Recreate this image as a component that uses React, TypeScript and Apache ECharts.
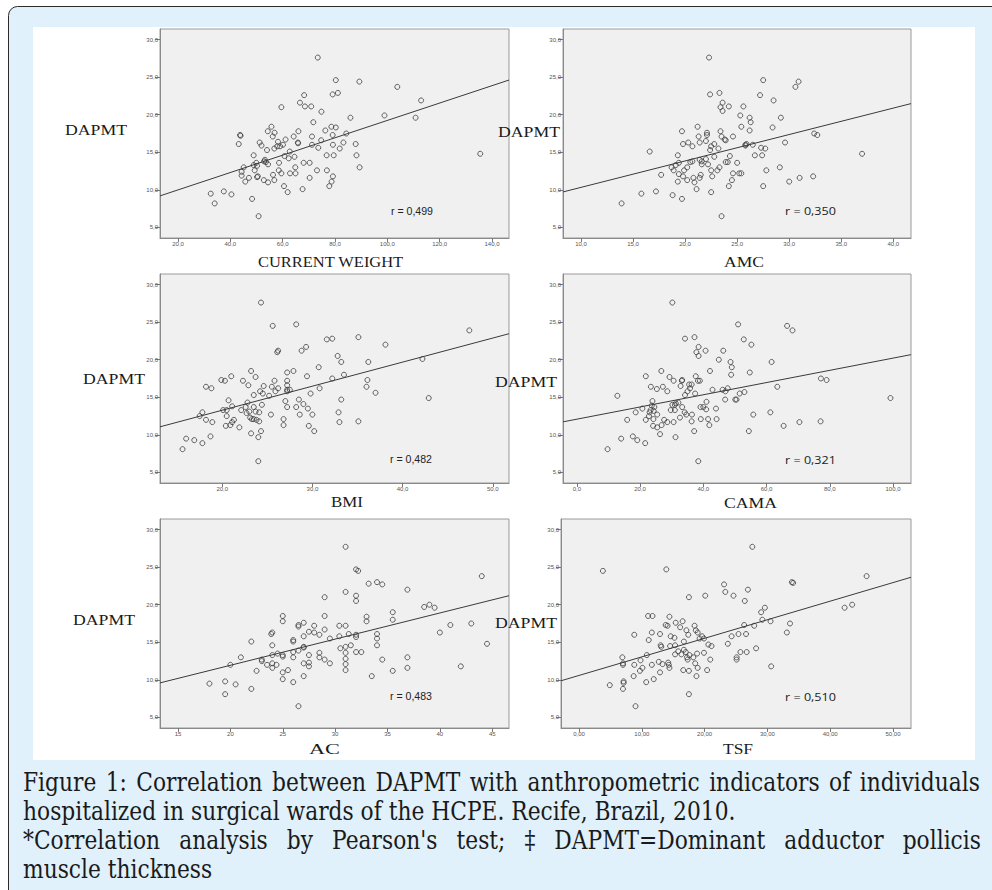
import React, { useEffect, useRef } from "react";
import * as echarts from "echarts";

// ---------- DATA ----------
const weightData: [number, number][] = [
  [73.4,27.6],[80.3,24.6],[89.3,24.4],[103.8,23.7],[112.9,21.9],[79.1,22.7],[81.1,22.9],[68.2,22.6],[66.6,21.6],[68.5,21.1],
  [70.9,21.1],[59.5,21.0],[74.8,20.4],[98.9,19.9],[85.9,19.6],[110.8,19.6],[71.7,19.0],[55.7,18.4],[78.6,18.4],[80.3,18.3],
  [76.3,17.9],[54.3,17.8],[56.9,17.6],[66.0,17.8],[43.9,17.2],[56.2,17.1],[64.2,17.1],[71.2,17.1],[79.1,17.3],[84.3,17.5],
  [43.7,17.3],[61.1,16.7],[74.7,16.6],[51.2,16.3],[58.2,16.4],[65.9,16.2],[83.2,16.3],[87.9,16.1],[43.2,16.1],[51.9,15.9],
  [57.9,15.8],[59.0,15.8],[71.2,16.0],[73.6,15.6],[79.2,16.0],[81.8,15.5],[54.0,15.3],[56.8,15.5],[62.7,15.1],[48.9,14.6],
  [60.7,14.5],[62.3,14.2],[64.5,14.4],[76.8,14.6],[79.5,14.6],[88.2,14.6],[135.5,14.8],[52.9,13.8],[53.6,13.7],[49.9,13.6],
  [48.9,13.3],[54.4,13.4],[58.6,13.6],[68.0,13.6],[70.3,13.6],[45.1,13.0],[64.8,13.0],[89.4,13.0],[44.3,12.4],[49.3,12.6],
  [58.5,12.6],[73.1,12.6],[76.9,12.6],[44.3,11.9],[56.3,12.0],[59.5,12.2],[62.8,12.2],[64.9,12.2],[79.2,11.8],[50.2,11.7],
  [47.1,11.6],[70.3,11.6],[45.7,11.1],[52.8,11.3],[54.4,11.0],[56.8,11.3],[78.7,11.1],[60.5,10.5],[77.8,10.5],[67.6,10.1],
  [61.9,9.7],[32.5,9.5],[37.5,9.8],[40.4,9.4],[48.3,8.8],[34.0,8.2],[50.8,6.5],[60.1,16.0],[50.2,13.2],[53.2,14.0],
  [50.5,11.8],[65.8,16.3]
];
const amcData: [number, number][] = [
  [22.3,27.6],[27.5,24.6],[30.9,24.4],[30.6,23.7],[23.3,22.9],[22.4,22.7],[27.2,22.6],[28.5,21.9],[23.6,21.6],[23.4,21.0],
  [24.2,21.1],[25.6,21.1],[23.6,20.5],[25.3,19.9],[26.2,19.6],[29.2,19.6],[26.3,19.0],[25.4,18.4],[28.4,18.3],[21.2,18.4],
  [26.2,17.9],[19.7,17.8],[23.4,17.8],[22.1,17.6],[22.1,17.3],[21.3,17.1],[23.5,17.1],[24.6,17.1],[32.4,17.5],[32.7,17.3],
  [23.8,16.7],[22.0,16.5],[20.3,16.3],[21.4,16.3],[22.8,16.1],[19.8,16.1],[29.6,16.3],[25.9,16.1],[26.5,16.0],[25.8,15.9],
  [22.5,15.8],[20.7,15.8],[27.3,15.6],[27.7,15.5],[23.2,15.5],[22.4,15.3],[16.6,15.1],[19.3,14.6],[24.3,14.5],[26.7,14.6],
  [27.4,14.6],[37.0,14.8],[22.8,14.4],[21.4,14.0],[21.6,13.8],[20.5,13.7],[23.9,13.7],[24.1,13.7],[19.4,13.6],[25.0,13.6],
  [21.6,13.4],[22.2,13.4],[19.1,13.3],[18.7,13.0],[20.2,13.0],[23.3,13.0],[29.1,13.0],[18.9,12.6],[19.9,12.6],[22.5,12.6],
  [23.1,12.6],[27.8,12.6],[17.7,12.0],[19.4,12.1],[21.5,12.0],[24.6,12.2],[25.2,12.2],[25.4,12.2],[19.8,11.8],[20.8,11.6],
  [21.4,11.6],[22.6,11.8],[31.0,11.6],[32.3,11.8],[19.3,11.1],[20.2,11.3],[20.9,11.0],[24.5,11.3],[30.0,11.1],[24.2,10.5],
  [27.5,10.5],[21.1,10.1],[22.5,9.7],[15.8,9.5],[17.2,9.8],[18.8,9.3],[19.7,8.8],[13.9,8.2],[23.5,6.5],[20.7,13.8],
  [22.0,14.1],[23.9,16.6],[25.8,16.0]
];
const bmiData: [number, number][] = [
  [24.3,27.6],[25.6,24.5],[28.2,24.7],[47.4,23.9],[35.1,23.0],[31.6,22.7],[32.2,22.8],[38.1,22.0],[29.3,21.7],[28.8,21.2],
  [26.1,21.0],[26.2,21.2],[32.8,20.5],[33.2,19.7],[36.2,19.7],[42.2,20.1],[30.7,19.0],[23.2,18.5],[27.2,18.3],[27.9,18.5],
  [33.5,18.0],[29.4,17.8],[21.0,17.8],[23.7,17.7],[32.2,17.5],[19.9,17.3],[20.3,17.2],[22.3,17.2],[25.8,17.2],[27.2,17.2],
  [36.1,17.3],[22.9,16.6],[27.2,16.6],[18.2,16.4],[18.8,16.2],[24.6,16.5],[25.5,16.4],[26.2,16.2],[36.0,16.4],[30.8,16.2],
  [27.2,16.0],[27.5,16.0],[24.2,15.8],[25.9,15.8],[24.5,15.5],[27.2,15.8],[29.8,15.5],[37.0,15.6],[23.5,15.3],[25.2,15.2],
  [42.9,14.9],[20.7,14.6],[27.0,14.5],[28.5,14.7],[33.2,14.7],[22.8,14.3],[29.0,14.1],[21.1,13.8],[24.4,14.0],[22.6,13.7],
  [23.5,13.7],[27.2,13.7],[28.2,13.7],[29.5,13.5],[20.1,13.3],[20.5,13.3],[22.1,13.3],[23.0,13.1],[23.7,13.1],[24.1,13.0],
  [17.8,13.0],[32.9,13.0],[17.5,12.5],[20.5,12.5],[22.7,12.9],[25.4,12.7],[28.6,12.7],[30.0,12.7],[23.1,12.3],[23.3,12.1],
  [23.5,12.1],[26.8,12.1],[23.8,12.0],[18.2,12.0],[21.3,12.0],[24.1,11.8],[18.9,11.7],[21.1,11.7],[33.0,11.7],[35.1,11.8],
  [20.9,11.3],[26.8,11.3],[20.4,11.2],[29.6,11.2],[21.9,11.0],[30.2,10.5],[24.3,10.5],[23.2,10.2],[24.0,9.7],[16.0,9.5],
  [16.9,9.3],[18.7,9.8],[17.8,8.9],[15.6,8.1],[24.0,6.5]
];
const camaData: [number, number][] = [
  [30.2,27.6],[51.0,24.7],[66.5,24.5],[68.2,23.9],[34.2,22.8],[37.2,23.0],[52.8,22.7],[55.2,22.0],[38.5,21.7],[37.8,21.0],
  [40.7,21.2],[46.3,21.2],[38.5,20.5],[44.9,20.0],[48.6,19.7],[61.6,19.7],[49.0,19.0],[26.7,18.5],[42.1,18.5],[54.7,18.3],
  [48.8,18.0],[21.8,17.8],[29.3,17.7],[37.6,17.8],[30.6,17.2],[33.2,17.2],[33.3,17.3],[38.3,17.2],[38.9,17.2],[77.2,17.5],
  [79.0,17.3],[32.8,16.5],[35.5,16.7],[36.3,16.7],[23.4,16.4],[25.3,16.1],[27.2,16.4],[28.6,15.8],[35.8,16.2],[63.4,16.4],
  [42.9,16.0],[46.1,16.0],[47.7,16.2],[47.0,15.8],[35.0,15.8],[34.2,15.3],[37.4,15.5],[51.5,15.5],[53.0,15.7],[99.2,14.9],
  [23.9,14.5],[41.0,14.4],[46.9,14.7],[50.1,14.7],[50.5,14.7],[32.1,14.3],[31.3,14.2],[30.2,14.0],[31.0,14.0],[39.1,13.7],
  [40.0,13.7],[33.3,13.7],[44.0,13.5],[20.7,13.5],[24.5,13.7],[23.3,13.3],[29.7,13.3],[31.0,13.3],[24.3,13.2],[23.0,13.0],
  [18.6,13.0],[34.1,13.0],[61.2,13.0],[34.6,12.7],[36.4,12.7],[55.8,12.7],[22.8,12.5],[25.4,12.7],[32.6,12.3],[24.2,12.1],
  [39.2,12.1],[41.5,12.1],[44.2,12.1],[15.9,12.0],[21.8,12.0],[27.6,12.0],[28.6,11.7],[30.6,11.7],[36.3,11.8],[70.4,11.7],
  [77.1,11.8],[24.1,11.2],[25.4,11.0],[26.8,11.3],[41.9,11.3],[65.4,11.2],[37.1,10.5],[54.4,10.5],[26.3,10.1],[31.2,9.7],
  [17.7,9.8],[14.0,9.5],[19.1,9.3],[21.6,8.9],[9.7,8.1],[38.4,6.5],[12.8,15.2],[23.7,13.9],[40.9,13.4]
];
const acData: [number, number][] = [
  [31.0,27.7],[32.0,24.7],[32.2,24.5],[44.0,23.8],[33.2,22.8],[34.0,23.0],[34.5,22.7],[36.9,22.0],[31.0,21.7],[32.0,21.2],
  [32.0,20.5],[29.0,21.0],[38.5,19.7],[39.0,20.0],[39.5,19.6],[35.5,19.0],[25.0,18.5],[29.0,18.5],[33.0,18.4],[33.0,17.8],
  [35.5,18.0],[25.0,17.8],[27.0,17.6],[28.0,17.2],[26.5,17.1],[30.4,17.2],[31.0,17.2],[41.0,17.3],[43.0,17.5],[26.5,17.3],
  [24.0,16.3],[23.9,16.1],[27.5,16.4],[29.0,16.7],[31.3,16.1],[34.0,16.1],[40.0,16.3],[28.5,16.0],[27.0,15.8],[30.4,15.8],
  [32.0,16.0],[32.0,15.7],[29.5,15.5],[34.0,15.5],[26.0,15.3],[22.0,15.1],[44.5,14.8],[24.0,14.6],[31.5,14.6],[31.0,14.4],
  [34.0,14.6],[27.0,14.4],[30.5,14.2],[26.0,13.7],[26.5,13.9],[28.5,13.6],[31.0,13.6],[32.0,13.7],[32.5,13.7],[24.5,13.5],
  [24.0,13.3],[25.0,13.3],[27.5,13.3],[26.0,13.0],[28.5,13.0],[31.0,12.8],[31.0,12.1],[36.9,13.0],[21.0,13.0],[23.0,12.5],
  [29.0,12.7],[34.5,12.7],[23.5,12.0],[24.0,12.2],[24.4,12.0],[27.0,12.2],[27.5,12.3],[27.5,11.8],[29.5,12.2],[20.0,12.0],
  [24.0,11.6],[25.5,11.3],[31.0,11.3],[35.5,11.2],[36.9,11.6],[42.0,11.8],[22.5,11.2],[25.0,11.0],[27.0,10.5],[33.5,10.5],
  [25.0,10.1],[26.0,9.7],[19.5,9.8],[20.5,9.4],[18.0,9.5],[22.0,8.8],[19.5,8.1],[26.5,6.5],[26.0,15.1],[27.0,14.3],
  [25.0,13.1],[28.0,16.3],[23.0,12.7]
];
const tsfData: [number, number][] = [
  [27.6,27.7],[3.8,24.5],[13.9,24.7],[45.8,23.8],[23.1,22.7],[33.9,23.0],[34.1,22.9],[26.9,22.0],[23.3,21.7],[24.6,21.2],
  [17.5,21.0],[20.1,21.2],[26.4,20.5],[29.6,19.6],[42.3,19.6],[43.5,20.0],[29.0,19.0],[11.0,18.5],[11.7,18.5],[14.4,18.4],
  [29.2,18.0],[30.5,17.8],[15.4,17.6],[16.5,17.8],[33.6,17.5],[13.8,17.3],[14.1,17.2],[18.4,17.2],[26.3,17.3],[27.9,17.2],
  [16.1,17.0],[17.1,16.6],[18.6,16.6],[11.6,16.3],[12.9,16.1],[17.4,16.0],[18.9,16.3],[25.4,16.1],[26.6,16.1],[33.1,16.3],
  [8.8,16.0],[14.6,15.8],[15.2,15.6],[19.6,15.8],[19.2,15.5],[19.9,15.5],[24.3,15.8],[11.1,15.3],[16.7,15.1],[13.0,14.6],
  [14.5,14.5],[15.3,14.6],[20.6,14.7],[21.1,14.5],[23.7,14.8],[13.1,14.4],[28.2,14.2],[15.8,13.8],[16.7,14.0],[17.0,13.7],
  [19.9,13.6],[25.7,13.7],[26.7,13.7],[15.3,13.4],[16.3,13.4],[17.6,13.3],[18.8,13.5],[10.8,13.3],[17.2,13.0],[18.2,13.0],
  [6.9,13.0],[25.1,13.0],[25.1,12.7],[17.3,12.7],[20.9,12.7],[9.8,12.6],[12.7,12.4],[14.2,12.3],[18.5,12.2],[7.0,12.2],
  [7.0,12.0],[8.8,12.0],[11.6,12.0],[13.3,12.1],[14.3,12.0],[14.4,11.6],[18.9,11.6],[30.6,11.8],[10.1,11.6],[9.7,11.2],
  [12.9,11.0],[16.6,11.3],[17.5,11.2],[20.4,11.3],[8.7,10.5],[18.7,10.5],[11.9,10.1],[10.7,9.7],[7.1,9.8],[7.1,9.6],
  [4.9,9.3],[7.0,8.8],[17.5,8.1],[9.0,6.5]
];

const yTicks = [5, 10, 15, 20, 25, 30];
const weightTicks = [20, 40, 60, 80, 100, 120, 140];
const amcTicks = [10, 15, 20, 25, 30, 35, 40];
const bmiTicks = [20, 30, 40, 50];
const camaTicks = [0, 20, 40, 60, 80, 100];
const acTicks = [15, 20, 25, 30, 35, 40, 45];
const tsfTicks = [0, 10, 20, 30, 40, 50];

const xTitles = ["CURRENT WEIGHT", "AMC", "BMI", "CAMA", "AC", "TSF"];
const rLabels = ["r = 0,499", "r = 0,350", "r = 0,482", "r = 0,321", "r = 0,483", "r = 0,510"];
const fitIntercepts = [7.69, 6.82, 6.88, 12.09, 4.98, 10.59];
const fitSlopes = [0.1155, 0.3515, 0.32, 0.0812, 0.348, 0.247];

const captionLines = [
  "Figure 1: Correlation between DAPMT with anthropometric indicators of individuals",
  "hospitalized in surgical wards of the HCPE. Recife, Brazil, 2010.",
  "*Correlation analysis by Pearson's test; \u2021 DAPMT=Dominant adductor pollicis",
  "muscle thickness",
];

// ---------- LAYOUT ----------
const panels = [
  { data: weightData, ticks: weightTicks, dec: 1, xMin: 13.1, xMax: 146.5, left: 160, top: 29, right: 509,
    yl: { x: 65, cy: 130 }, xt: { x: 258, w: 146, cy: 262 }, r: { x: 391, w: 42, cy: 211, font: "Liberation Sans" } },
  { data: amcData, ticks: amcTicks, dec: 1, xMin: 8.27, xMax: 41.7, left: 563, top: 29, right: 911,
    yl: { x: 498, cy: 132 }, xt: { x: 724, w: 40, cy: 262 }, r: { x: 785, w: 51, cy: 210, font: "Open Sans" } },
  { data: bmiData, ticks: bmiTicks, dec: 1, xMin: 13.1, xMax: 51.8, left: 160, top: 274, right: 509,
    yl: { x: 83, cy: 379 }, xt: { x: 331, w: 32, cy: 502 }, r: { x: 390, w: 42, cy: 459, font: "Liberation Sans" } },
  { data: camaData, ticks: camaTicks, dec: 1, xMin: -4.4, xMax: 105.7, left: 563, top: 274, right: 911,
    yl: { x: 495, cy: 382 }, xt: { x: 724, w: 53, cy: 503 }, r: { x: 785, w: 51, cy: 459, font: "Open Sans" } },
  { data: acData, ticks: acTicks, dec: 0, xMin: 13.28, xMax: 46.6, left: 160, top: 519, right: 509,
    yl: { x: 73, cy: 620 }, xt: { x: 309, w: 31, cy: 749 }, r: { x: 390, w: 42, cy: 696, font: "Liberation Sans" } },
  { data: tsfData, ticks: tsfTicks, dec: 2, xMin: -2.87, xMax: 52.87, left: 561, top: 519, right: 911,
    yl: { x: 495, cy: 623 }, xt: { x: 723, w: 30, cy: 749 }, r: { x: 785, w: 51, cy: 696, font: "Open Sans" } },
];
const PANEL_H = 209;
const Y_MIN = 3.6;
const Y_MAX = 31.4;

let measureCtx: CanvasRenderingContext2D | null = null;
function measure(text: string, font: string): number {
  if (!measureCtx) measureCtx = document.createElement("canvas").getContext("2d");
  if (!measureCtx) return text.length * 7;
  measureCtx.font = font;
  return measureCtx.measureText(text).width;
}

function fittedText(text: string, x: number, cy: number, font: string, width: number, fill: string, z = 20) {
  const w = measure(text, font);
  const s = width / w;
  return {
    type: "text",
    x,
    y: cy,
    scaleX: s,
    z,
    style: { text, x: 0, y: 0, font, fill, align: "left", verticalAlign: "middle", textAlign: "left", textVerticalAlign: "middle" },
  };
}

const fmt = (dec: number) => (v: number) => v.toFixed(dec).replace(".", ",");

export default function App() {
  const ref = useRef<HTMLDivElement>(null);
  useEffect(() => {
    if (!ref.current) return;
    const chart = echarts.init(ref.current, undefined, { renderer: "svg" });

    const grids: any[] = [];
    const xAxes: any[] = [];
    const yAxes: any[] = [];
    const series: any[] = [];
    const graphics: any[] = [];

    // background box
    graphics.push({
      type: "rect", z: -20,
      shape: { x: 8.5, y: 6.5, width: 1000, height: 900, r: [9, 0, 0, 0] },
      style: { fill: "#e0f1fb", stroke: "#2b2b2b", lineWidth: 1 },
    });
    graphics.push({
      type: "rect", z: -19,
      shape: { x: 33, y: 27, width: 942, height: 733 },
      style: { fill: "#ffffff" },
    });

    const serifFont = '14px "Liberation Serif"';
    const dapmtW = 62;

    panels.forEach((p, i) => {
      grids.push({
        left: p.left, top: p.top, width: p.right - p.left, height: PANEL_H,
        show: true, backgroundColor: "#f0f0f0", borderColor: "#9a9a9a", borderWidth: 1,
        containLabel: false, outerBoundsMode: "none",
      });
      xAxes.push({
        type: "value", gridIndex: i, min: p.xMin, max: p.xMax,
        axisLine: { show: true, onZero: false, lineStyle: { color: "#8a8a8a", width: 1 } },
        axisTick: { show: true, length: 4, customValues: p.ticks, lineStyle: { color: "#777" } },
        axisLabel: { customValues: p.ticks, fontSize: 6, color: "#555", margin: 3, fontFamily: "Liberation Sans", formatter: fmt(p.dec) },
        splitLine: { show: false },
      });
      yAxes.push({
        type: "value", gridIndex: i, min: Y_MIN, max: Y_MAX,
        axisLine: { show: true, onZero: false, lineStyle: { color: "#8a8a8a", width: 1 } },
        axisTick: { show: true, length: 5, customValues: yTicks, lineStyle: { color: "#777" } },
        axisLabel: { customValues: yTicks, fontSize: 6, color: "#555", margin: 2, fontFamily: "Liberation Sans", formatter: fmt(1) },
        splitLine: { show: false },
      });
      series.push({
        type: "scatter", xAxisIndex: i, yAxisIndex: i, data: p.data,
        symbol: "circle", symbolSize: 5,
        itemStyle: { color: "rgba(0,0,0,0)", borderColor: "#3c3c3c", borderWidth: 1 },
        z: 3,
      });
      const a = fitIntercepts[i];
      const b = fitSlopes[i];
      series.push({
        type: "line", xAxisIndex: i, yAxisIndex: i,
        data: [[p.xMin, a + b * p.xMin], [p.xMax, a + b * p.xMax]],
        showSymbol: false, symbol: "none",
        lineStyle: { color: "#3a3a3a", width: 1 },
        z: 2, silent: true,
      });

      graphics.push(fittedText("DAPMT", p.yl.x, p.yl.cy, serifFont, dapmtW, "#1a1a1a"));
      graphics.push(fittedText(xTitles[i], p.xt.x, p.xt.cy, serifFont, p.xt.w, "#1a1a1a"));
      graphics.push(fittedText(rLabels[i], p.r.x, p.r.cy, `11px "${p.r.font}"`, p.r.w, "#222"));
    });

    // caption
    const capFont = '26px "DejaVu Serif"';
    const capLeft = 23;
    const capS = 713 / measure(captionLines[1], capFont);
    const capCy = [782, 811, 840, 869];
    const justify = [957, 0, 958, 0];
    captionLines.forEach((line, li) => {
      if (!justify[li]) {
        graphics.push({
          type: "text", x: capLeft, y: capCy[li], scaleX: capS, z: 20,
          style: { text: line, x: 0, y: 0, font: capFont, fill: "#1a1a1a", align: "left", verticalAlign: "middle", textAlign: "left", textVerticalAlign: "middle" },
        });
      } else {
        const words = line.split(" ");
        const ws = words.map((w) => measure(w, capFont) * capS);
        const total = ws.reduce((s, v) => s + v, 0);
        const gap = (justify[li] - total) / (words.length - 1);
        let x = capLeft;
        words.forEach((w, wi) => {
          graphics.push({
            type: "text", x, y: capCy[li], scaleX: capS, z: 20,
            style: { text: w, x: 0, y: 0, font: capFont, fill: "#1a1a1a", align: "left", verticalAlign: "middle", textAlign: "left", textVerticalAlign: "middle" },
          });
          x += ws[wi] + gap;
        });
      }
    });

    chart.setOption({
      animation: false,
      backgroundColor: "#ffffff",
      grid: grids,
      xAxis: xAxes,
      yAxis: yAxes,
      series,
      graphic: { elements: graphics },
    });
    return () => chart.dispose();
  }, []);
  return <div ref={ref} style={{ position: "absolute", left: 0, top: 0, width: 992, height: 890 }} />;
}
